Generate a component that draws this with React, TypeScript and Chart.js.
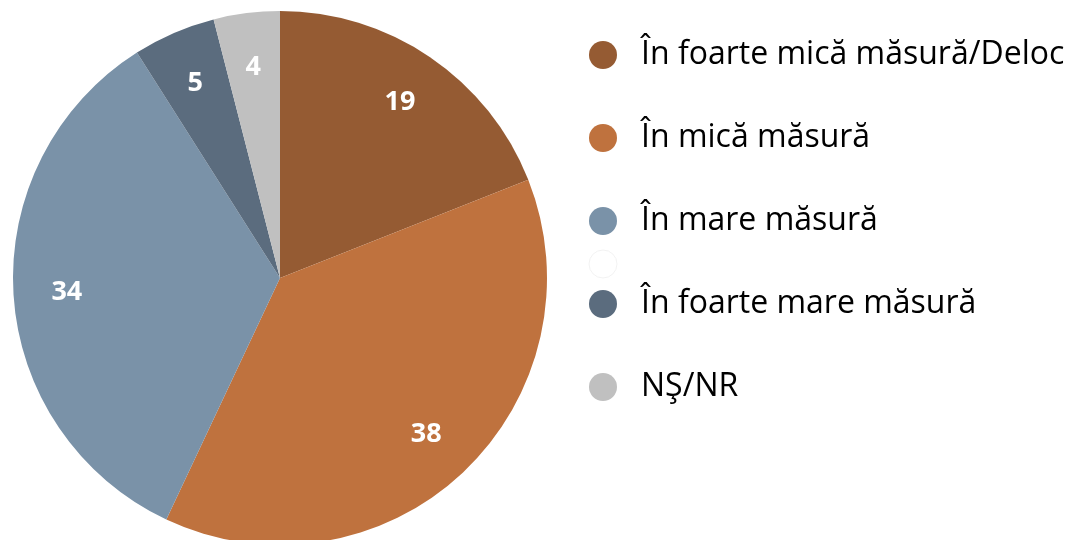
import React, { useEffect, useRef } from "react";
import { Chart, registerables } from "chart.js";

Chart.register(...registerables);

const categories = [
  "În foarte mică măsură/Deloc",
  "În mică măsură",
  "În mare măsură",
  "",
  "În foarte mare măsură",
  "NŞ/NR",
];
const values = [19, 38, 34, 0, 5, 4];
const colors = ["#955B33", "#BF723E", "#7A92A8", "#FFFFFF", "#5B6C7E", "#C0C0C0"];

const FONT = "'Open Sans', 'Noto Sans', sans-serif";

const labelPlugin = {
  id: "sliceLabels",
  afterDatasetsDraw(chart: any) {
    const ctx = chart.ctx;
    const meta = chart.getDatasetMeta(0);
    ctx.save();
    ctx.fillStyle = "#FFFFFF";
    ctx.font = `bold 27px ${FONT}`;
    ctx.textAlign = "center";
    ctx.textBaseline = "middle";
    meta.data.forEach((arc: any, i: number) => {
      const v = values[i];
      if (!v) return;
      const p = arc.getProps(["x", "y", "startAngle", "endAngle", "outerRadius"], true);
      const mid = (p.startAngle + p.endAngle) / 2;
      const r = p.outerRadius * 0.8;
      ctx.fillText(String(v), p.x + Math.cos(mid) * r, p.y + Math.sin(mid) * r + 1);
    });
    ctx.restore();
  },
};

const legendPlugin = {
  id: "sideLegend",
  afterDraw(chart: any) {
    const ctx = chart.ctx;
    const labels = chart.data.labels as string[];
    const bg = chart.data.datasets[0].backgroundColor as string[];
    ctx.save();
    let y = 55;
    labels.forEach((lab, i) => {
      let cy = y;
      if (lab === "") {
        cy = y - 83 + 43;
      }
      ctx.beginPath();
      ctx.arc(603, cy, 14, 0, Math.PI * 2);
      ctx.fillStyle = bg[i];
      ctx.fill();
      if (lab === "") {
        ctx.strokeStyle = "#F2F2F2";
        ctx.lineWidth = 1;
        ctx.stroke();
      } else {
        ctx.fillStyle = "#000000";
        ctx.font = `32px ${FONT}`;
        ctx.textAlign = "left";
        ctx.textBaseline = "alphabetic";
        ctx.fillText(lab, 641, cy + 9);
        y += 83;
      }
    });
    ctx.restore();
  },
};

export default function App() {
  const ref = useRef<HTMLCanvasElement>(null);
  useEffect(() => {
    const chart = new Chart(ref.current!, {
      type: "pie",
      data: {
        labels: categories,
        datasets: [
          {
            data: values,
            backgroundColor: colors,
            borderWidth: 0,
          },
        ],
      },
      options: {
        responsive: false,
        animation: false,
        layout: { padding: { left: 13, right: 528, top: 11, bottom: 11 } },
        plugins: {
          legend: { display: false },
          tooltip: { enabled: false },
        },
      },
      plugins: [labelPlugin, legendPlugin],
    });
    return () => chart.destroy();
  }, []);
  return (
    <div
      style={{
        position: "absolute",
        left: 0,
        top: 0,
        width: 1075,
        height: 540,
        overflow: "hidden",
        background: "#fff",
      }}
    >
      <canvas ref={ref} width={1075} height={556} style={{ display: "block" }} />
    </div>
  );
}
